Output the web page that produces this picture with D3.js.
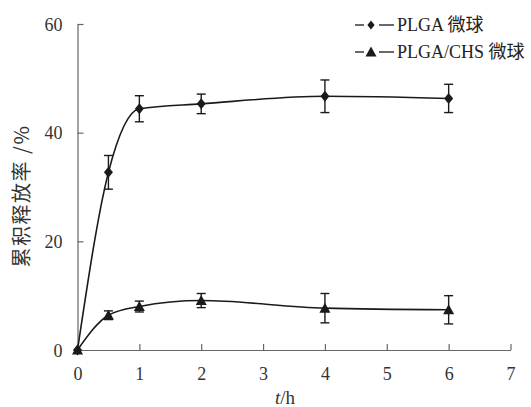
<!DOCTYPE html>
<html><head><meta charset="utf-8">
<script src="https://cdn.jsdelivr.net/npm/d3@7"></script>
<style>body{margin:0;background:#fff}svg{display:block}</style>
</head><body>
<svg id="c" width="531" height="407"></svg>
<script>
const times = [0, 0.5, 1, 2, 4, 6];
const plgaValues = [0, 32.7, 44.4, 45.3, 46.7, 46.3];
const plgaErrors = [0, 3.1, 2.4, 1.8, 3.0, 2.6];
const chsValues = [0, 6.4, 8.0, 9.1, 7.7, 7.4];
const chsErrors = [0, 0.8, 1.0, 1.3, 2.7, 2.6];
const xTicks = [0, 1, 2, 3, 4, 5, 6, 7];
const yTicks = [0, 20, 40, 60];
const seriesNames = ["PLGA 微球", "PLGA/CHS 微球"];

const svg = d3.select("#c");
const x = d3.scaleLinear().domain([0, 7]).range([77.5, 510.5]);
const y = d3.scaleLinear().domain([0, 60]).range([350, 24]);
const axisColor = "#666";
const lineColor = "#1a1a1a";
const fontNum = "'Liberation Serif', 'DejaVu Serif', serif";

// axes
const xAxis = svg.append("g").attr("transform", "translate(0,350)")
  .call(d3.axisBottom(x).tickValues(xTicks).tickFormat(d3.format("d")).tickSizeInner(-6).tickSizeOuter(0).tickPadding(14));
const yAxis = svg.append("g").attr("transform", "translate(77.5,0)")
  .call(d3.axisLeft(y).tickValues(yTicks).tickFormat(d3.format("d")).tickSizeInner(-6).tickSizeOuter(0).tickPadding(15));
[xAxis, yAxis].forEach(a => {
  a.select(".domain").attr("stroke", axisColor).attr("stroke-width", 1.2);
  a.selectAll(".tick line").attr("stroke", axisColor).attr("stroke-width", 1.2);
  a.selectAll(".tick text").attr("fill", "#333").style("font-family", fontNum).style("font-size", "18px");
});
xAxis.selectAll(".tick text").attr("dy", "0.9em");
yAxis.selectAll(".tick text").attr("dy", "0.35em");

// axis titles
svg.append("text").attr("x", 285).attr("y", 404).attr("text-anchor", "middle")
  .style("font-family", fontNum).style("font-size", "19px").attr("fill", "#333")
  .html("<tspan font-style='italic'>t</tspan>/h");
svg.append("text").attr("transform", "translate(29,196) rotate(-90)").attr("text-anchor", "middle")
  .style("font-family", "'Noto Sans CJK SC', serif").style("font-size", "20px").attr("fill", "#333")
  .attr("letter-spacing", "1.5")
  .text("累积释放率 /%");

const line = d3.line().x(d => x(d[0])).y(d => y(d[1])).curve(d3.curveMonotoneX);

function drawSeries(vals, errs, shape) {
  const pts = times.map((t, i) => [t, vals[i], errs[i]]);
  svg.append("path").datum(pts).attr("d", line).attr("fill", "none")
    .attr("stroke", lineColor).attr("stroke-width", 1.6);
  const g = svg.append("g");
  pts.filter(p => p[2] > 0).forEach(p => {
    const cx = x(p[0]), y1 = y(p[1] + p[2]), y2 = y(p[1] - p[2]);
    g.append("line").attr("x1", cx).attr("x2", cx).attr("y1", y1).attr("y2", y2).attr("stroke", lineColor).attr("stroke-width", 1.4);
    g.append("line").attr("x1", cx - 4.5).attr("x2", cx + 4.5).attr("y1", y1).attr("y2", y1).attr("stroke", lineColor).attr("stroke-width", 1.4);
    g.append("line").attr("x1", cx - 4.5).attr("x2", cx + 4.5).attr("y1", y2).attr("y2", y2).attr("stroke", lineColor).attr("stroke-width", 1.4);
  });
  g.selectAll("path.m").data(pts).join("path").attr("class", "m")
    .attr("transform", d => `translate(${x(d[0])},${y(d[1])})`)
    .attr("d", shape).attr("fill", lineColor);
}
const diamond = "M0,-5.5L4.5,0L0,5.5L-4.5,0Z";
const triangle = "M0,-5.5L5.5,4.5L-5.5,4.5Z";
drawSeries(plgaValues, plgaErrors, diamond);
drawSeries(chsValues, chsErrors, triangle);

// legend
const legendShapes = [diamond, triangle];
seriesNames.forEach((name, i) => {
  const ly = 25 + i * 27;
  const lg = svg.append("g");
  lg.append("line").attr("x1", 355).attr("x2", 364).attr("y1", ly).attr("y2", ly).attr("stroke", lineColor).attr("stroke-width", 1.3);
  lg.append("line").attr("x1", 379).attr("x2", 394).attr("y1", ly).attr("y2", ly).attr("stroke", lineColor).attr("stroke-width", 1.3);
  lg.append("path").attr("transform", `translate(371,${ly})${i === 0 ? " scale(0.8)" : ""}`).attr("d", legendShapes[i]).attr("fill", lineColor);
  lg.append("text").attr("x", 397).attr("y", ly).attr("dy", "0.35em")
    .style("font-family", "'Liberation Serif','Noto Sans CJK SC', serif").style("font-size", "18px").attr("fill", "#222")
    .text(name);
});
</script>
</body></html>
